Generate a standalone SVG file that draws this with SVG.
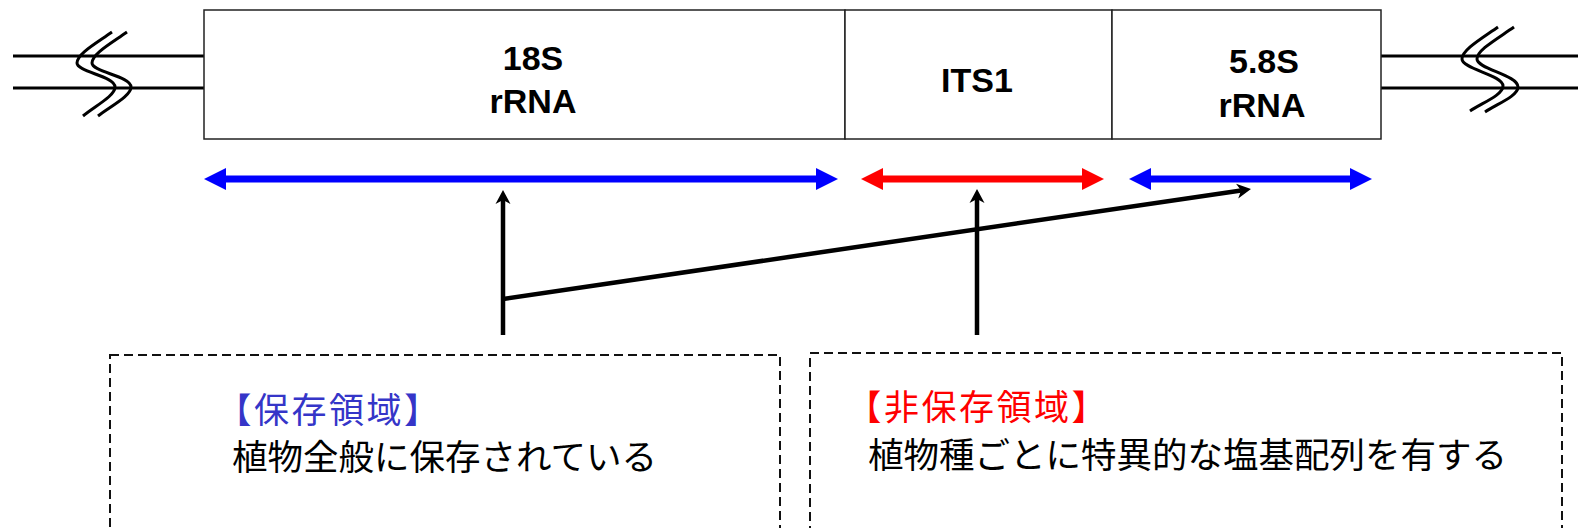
<svg xmlns="http://www.w3.org/2000/svg" width="1578" height="528" viewBox="0 0 1578 528">
<style>
.box{fill:#fff;stroke:#222;stroke-width:1.5}
.bb{fill:none;stroke:#000;stroke-width:3}
.lbl{font-family:"Liberation Sans",Arial,sans-serif;font-weight:bold;font-size:34px;fill:#000;text-anchor:middle}
.jp{font-family:"Noto Sans CJK JP","Noto Sans",sans-serif;font-size:35.5px;fill:#000}
.hd{font-family:"Noto Sans CJK JP","Noto Sans",sans-serif;font-size:35px;letter-spacing:2.5px}
.dash{fill:#fff;stroke:#111;stroke-width:2;stroke-dasharray:9 5}
.blue{stroke:#0000FF;stroke-width:7;fill:none}
.red{stroke:#FF0000;stroke-width:7;fill:none}
.ptr{stroke:#000;stroke-width:4.5;fill:none}
</style>
<defs>
<marker id="hb" markerUnits="userSpaceOnUse" viewBox="0 -11 22 22" markerWidth="22" markerHeight="22" refX="0" refY="0" orient="auto-start-reverse"><path d="M0,-11 L22,0 L0,11 z" fill="#0000FF"/></marker>
<marker id="hr" markerUnits="userSpaceOnUse" viewBox="0 -11 22 22" markerWidth="22" markerHeight="22" refX="0" refY="0" orient="auto-start-reverse"><path d="M0,-11 L22,0 L0,11 z" fill="#FF0000"/></marker>
<marker id="hk" markerUnits="userSpaceOnUse" viewBox="-5 -8 16 16" markerWidth="16" markerHeight="16" refX="0" refY="0" orient="auto"><path d="M10,0 L-4,-7.5 L0,0 L-4,7.5 z" fill="#000"/></marker>
</defs>

<g id="backbone">
<line class="bb" x1="13" y1="56" x2="204" y2="56"/>
<line class="bb" x1="13" y1="88" x2="204" y2="88"/>
<line class="bb" x1="1381" y1="56" x2="1578" y2="56"/>
<line class="bb" x1="1381" y1="88" x2="1578" y2="88"/>
<path class="bb" d="M112,32 C95,44 77,54 77,63 C77,72 115,76 115,87 C115,96 95,106 83,116"/>
<path class="bb" d="M127,32 C110,44 92,54 92,63 C92,72 131,76 131,87 C131,96 111,106 98,116"/>
<path class="bb" d="M1498,27 C1481,39 1462,50 1462,59 C1462,69 1503,75 1503,86 C1503,95 1482,103 1470,111"/>
<path class="bb" d="M1514,27 C1497,39 1477,50 1477,59 C1477,69 1518,75 1518,87 C1518,96 1497,104 1485,112"/>
</g>

<g id="node-18S">
<rect class="box" x="204" y="10" width="641" height="129"/>
<text class="lbl" x="533" y="70">18S</text>
<text class="lbl" x="533" y="113">rRNA</text>
</g>
<g id="node-ITS1">
<rect class="box" x="845" y="10" width="267" height="129"/>
<text class="lbl" x="977" y="92">ITS1</text>
</g>
<g id="node-5.8S">
<rect class="box" x="1112" y="10" width="269" height="129"/>
<text class="lbl" x="1264" y="73">5.8S</text>
<text class="lbl" x="1262" y="117">rRNA</text>
</g>

<g id="node-conserved">
<rect class="dash" x="110" y="355" width="670" height="200"/>
<text class="hd" y="422.5" fill="#3535C8"><tspan x="216.5">【保存領域】</tspan></text>
<text class="jp" x="232" y="469.5">植物全般に保存されている</text>
</g>
<g id="node-nonconserved">
<rect class="dash" x="810" y="353" width="752" height="200"/>
<text class="hd" y="419.5" fill="#FF0000"><tspan x="846.5">【非保存領域】</tspan></text>
<text class="jp" x="868" y="467.5">植物種ごとに特異的な塩基配列を有する</text>
</g>

<g id="connectors">
<line class="blue" x1="226" y1="179" x2="816" y2="179" marker-start="url(#hb)" marker-end="url(#hb)"/>
<line class="red" x1="883" y1="179" x2="1082" y2="179" marker-start="url(#hr)" marker-end="url(#hr)"/>
<line class="blue" x1="1151" y1="179" x2="1350" y2="179" marker-start="url(#hb)" marker-end="url(#hb)"/>
<line class="ptr" x1="503" y1="335" x2="503" y2="200" marker-end="url(#hk)"/>
<line class="ptr" x1="977" y1="335" x2="977" y2="199" marker-end="url(#hk)"/>
<line class="ptr" x1="503" y1="299" x2="1241.1" y2="190.5" marker-end="url(#hk)"/>
</g>
</svg>
